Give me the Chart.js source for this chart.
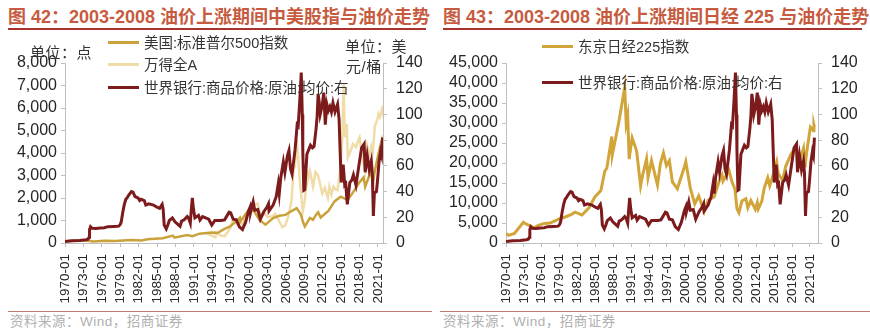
<!DOCTYPE html>
<html lang="zh-CN">
<head>
<meta charset="UTF-8">
<title>2003-2008 油价上涨期间股指与油价走势</title>
<script src="https://cdn.jsdelivr.net/npm/chart.js"></script>
<style>
  body { margin: 0; width: 870px; height: 334px; background: #fff; position: relative; overflow: hidden;
         font-family: "Liberation Sans", "Noto Sans CJK SC", sans-serif; }
  .abs { position: absolute; white-space: nowrap; }
  .title { top: 6px; font-size: 18px; line-height: 22px; font-weight: bold; color: #c65b40; }
  .rule { top: 28px; height: 2px; background: #a8322d; }
  .foot { top: 311px; height: 1px; background: #c07a72; }
  .src { top: 314px; font-size: 13.5px; line-height: 16px; color: #b0b0b0; letter-spacing: 0.5px; }
  .unit { font-size: 15px; line-height: 16px; color: #333; letter-spacing: 0.5px; }
  .leg { font-size: 14.5px; line-height: 16px; color: #333; }
  .leg i { position: absolute; left: -36px; top: 6px; width: 31px; height: 3px; }
  canvas { position: absolute; top: 40px; }
</style>
</head>
<body>
  <div class="abs title" style="left:8px">图 42：2003-2008 油价上涨期间中美股指与油价走势</div>
  <div class="abs rule" style="left:8px; width:418px"></div>
  <div class="abs title" style="left:443px">图 43：2003-2008 油价上涨期间日经 225 与油价走势</div>
  <div class="abs rule" style="left:443px; width:419px"></div>

  <canvas id="usChart" width="435" height="270" style="left:0"></canvas>
  <canvas id="jpChart" width="435" height="270" style="left:435px"></canvas>

  <div class="abs unit" style="left:30px; top:45px">单位：点</div>
  <div class="abs unit" style="left:345px; top:39px">单位：美</div>
  <div class="abs unit" style="left:346px; top:59px">元/桶</div>

  <div class="abs leg" style="left:144px; top:35px"><i style="background:#c9a23c"></i>美国:标准普尔500指数</div>
  <div class="abs leg" style="left:144px; top:57px"><i style="background:#f0dca8"></i>万得全A</div>
  <div class="abs leg" style="left:144px; top:80px"><i style="background:#7c1a1c"></i>世界银行:商品价格:原油:均价:右</div>

  <div class="abs leg" style="left:578px; top:39px"><i style="background:#d2a53a"></i>东京日经225指数</div>
  <div class="abs leg" style="left:578px; top:75px"><i style="background:#7c1a1c"></i>世界银行:商品价格:原油:均价:右</div>

  <div class="abs foot" style="left:8px; width:424px"></div>
  <div class="abs foot" style="left:440px; width:430px"></div>
  <div class="abs src" style="left:10px">资料来源：Wind，招商证券</div>
  <div class="abs src" style="left:443px">资料来源：Wind，招商证券</div>

<script>
// x轴刻度 (每三年)
const tickYears = [1970, 1973, 1976, 1979, 1982, 1985, 1988, 1991, 1994, 1997, 2000, 2003, 2006, 2009, 2012, 2015, 2018, 2021];

// 世界银行:商品价格:原油:均价 (美元/桶)
const oilDates = [
  '1970-01','1971-02','1972-06','1973-06','1973-10','1973-12','1974-01','1974-03','1974-06','1975-01','1975-10','1976-06',
  '1977-01','1978-01','1978-10','1979-01','1979-03','1979-06','1979-09','1979-12','1980-03','1980-06','1980-11','1981-02',
  '1981-06','1981-12','1982-03','1982-06','1982-12','1983-03','1983-09','1984-06','1984-12','1985-06','1985-11','1986-01',
  '1986-03','1986-07','1986-10','1987-01','1987-07','1987-12','1988-03','1988-10','1989-01','1989-06','1989-12','1990-03',
  '1990-06','1990-08','1990-10','1990-12','1991-03','1991-10','1992-01','1992-06','1993-06','1993-12','1994-06','1995-06',
  '1996-01','1996-10','1997-01','1997-06','1997-12','1998-06','1998-12','1999-06','1999-12','2000-03','2000-04','2000-09',
  '2000-12','2001-06','2001-11','2002-06','2002-12','2003-03','2003-04','2003-12','2004-06','2004-10','2004-12','2005-03',
  '2005-08','2005-11','2006-04','2006-07','2006-10','2007-01','2007-07','2007-11','2008-01','2008-04','2008-07','2008-09',
  '2008-10','2008-12','2009-02','2009-06','2009-10','2010-01','2010-05','2010-08','2010-12','2011-02','2011-04','2011-06',
  '2011-08','2011-12','2012-03','2012-06','2012-09','2012-12','2013-03','2013-06','2013-09','2014-01','2014-06','2014-09',
  '2014-12','2015-01','2015-05','2015-08','2015-10','2016-01','2016-06','2016-10','2017-01','2017-06','2017-12','2018-05',
  '2018-10','2018-12','2019-04','2019-08','2019-12','2020-02','2020-04','2020-06','2020-10','2020-12','2021-03','2021-06',
  '2021-08','2021-10'
];
const oilPrice = [
  1.2, 1.7, 1.9, 2.6, 3.0, 4.5, 10.5, 12.6, 11.4, 11.2, 11.6, 11.9,
  12.7, 12.9, 13.1, 14.5, 16.5, 24, 30, 34, 35.5, 37.5, 40, 39.5,
  36, 35, 33, 34, 33, 29.5, 30.5, 29.5, 28, 27, 30, 26,
  14, 11, 14, 17.5, 19.5, 16.5, 15.5, 13, 17, 18, 20.5, 19,
  15.5, 26, 35, 27, 19.5, 21.5, 17.8, 20.5, 18.5, 14, 17.5, 17.5,
  18, 24, 23.5, 18.5, 18, 12.5, 10.5, 16, 25, 28, 24, 32,
  25.5, 26, 18.5, 24.5, 28, 30.5, 25, 29.5, 36, 46, 38.5, 51,
  63, 55, 68, 72, 57.5, 53.5, 73, 92, 91, 110, 132.5, 100,
  72, 41, 41.5, 69, 73, 76, 74, 75, 89, 98, 116, 110,
  100, 107, 117, 92, 108, 103, 106, 102, 109, 102, 108, 96,
  60, 47, 61, 45, 46, 30, 47, 49, 53, 45, 61, 74,
  77, 55, 68, 57, 64, 54, 21, 39, 40, 48, 63, 71,
  68, 82
];

// 美国:标准普尔500指数
const spxDates = [
  '1970-01','1970-06','1972-12','1974-09','1976-06','1978-03','1980-11','1982-07','1983-06','1985-12','1987-08','1987-11',
  '1989-12','1990-10','1991-12','1993-12','1994-12','1995-12','1996-12','1997-12','1998-07','1998-08','1999-12','2000-08',
  '2001-09','2002-09','2003-12','2004-12','2005-12','2006-12','2007-10','2008-06','2008-11','2009-02','2009-12','2010-06',
  '2010-12','2011-04','2011-09','2012-12','2013-12','2014-12','2015-08','2016-02','2016-12','2017-12','2018-09','2018-12',
  '2019-12','2020-03','2020-06','2020-12','2021-04','2021-08','2021-09','2021-10'
];
const spxValue = [
  90, 75, 118, 70, 100, 90, 135, 110, 165, 210, 330, 235,
  350, 305, 415, 465, 455, 615, 740, 970, 1120, 957, 1470, 1517,
  1040, 815, 1110, 1210, 1250, 1420, 1550, 1280, 896, 735, 1115, 1030,
  1257, 1363, 1131, 1426, 1848, 2059, 1972, 1932, 2239, 2673, 2914, 2507,
  3231, 2585, 3100, 3756, 4181, 4523, 4307, 4605
];

// 万得全A
const windDates = [
  '1993-01','1993-06','1994-07','1994-09','1995-06','1996-01','1996-12','1997-05','1998-01','1998-06','1999-01','1999-06',
  '2000-01','2000-11','2001-06','2001-10','2002-06','2003-01','2003-12','2004-04','2005-06','2005-12','2006-06','2006-12',
  '2007-05','2007-07','2007-10','2008-01','2008-04','2008-10','2009-02','2009-07','2009-08','2009-12','2010-06','2010-11',
  '2011-04','2011-12','2012-05','2012-11','2013-02','2013-06','2013-10','2014-01','2014-06','2014-12','2015-03','2015-06',
  '2015-08','2015-12','2016-02','2016-06','2016-12','2017-06','2017-11','2018-01','2018-06','2018-12','2019-04','2019-08',
  '2019-12','2020-03','2020-07','2020-12','2021-02','2021-05','2021-09','2021-10'
];
const windValue = [
  450, 380, 260, 420, 330, 300, 650, 1000, 850, 950, 800, 1250,
  1300, 1700, 1750, 1300, 1350, 1150, 1200, 1300, 700, 800, 1200, 1900,
  3600, 3500, 4600, 3800, 2800, 1400, 1900, 3200, 2800, 3200, 2500, 3150,
  3000, 2200, 2450, 2000, 2500, 2150, 2500, 2400, 2350, 3400, 4600, 7100,
  4700, 5300, 3800, 4000, 4400, 4250, 4600, 4700, 3800, 3200, 4300, 3900,
  4300, 4100, 5200, 5500, 5750, 5600, 5950, 5850
];

// 东京日经225指数
const nkDates = [
  '1970-01','1970-06','1971-06','1972-12','1973-06','1974-10','1975-06','1976-06','1977-06','1978-12','1979-12','1980-12',
  '1981-08','1982-10','1983-12','1984-12','1985-12','1986-08','1986-12','1987-10','1987-11','1988-12','1989-12','1990-03',
  '1990-06','1990-09','1990-12','1991-03','1991-12','1992-08','1992-12','1993-08','1993-11','1994-06','1995-06','1995-12',
  '1996-06','1996-12','1997-06','1997-12','1998-10','1999-12','2000-03','2000-12','2001-09','2002-05','2003-04','2003-12',
  '2004-12','2005-12','2006-04','2006-06','2007-06','2007-12','2008-06','2008-10','2009-02','2009-08','2010-04','2010-08',
  '2011-02','2011-11','2012-03','2012-05','2012-12','2013-05','2013-12','2014-04','2014-12','2015-06','2015-09','2016-06',
  '2016-12','2017-10','2018-09','2018-12','2019-06','2019-12','2020-03','2020-06','2020-12','2021-02','2021-08','2021-09',
  '2021-10'
];
const nkValue = [
  2400, 1900, 2400, 5200, 4700, 3800, 4400, 4900, 5000, 6000, 6500, 7100,
  7700, 7000, 8800, 11500, 13100, 18000, 18700, 26600, 22000, 30100, 38900, 29980,
  31900, 20980, 23850, 26300, 22980, 14300, 16900, 21000, 16400, 20600, 14500, 19900,
  22500, 19360, 20600, 15260, 13560, 18930, 20330, 13790, 9770, 11760, 7830, 10680,
  11490, 16110, 17000, 15500, 18140, 15300, 13480, 8580, 7570, 10500, 11060, 8820,
  10620, 8430, 10080, 8540, 10400, 13770, 16290, 14300, 17450, 20240, 17390, 15580,
  19110, 22010, 24120, 20010, 21280, 23660, 18920, 22290, 27440, 28970, 28090, 29450,
  28890
];

function toYear(s) {
  const [y, m] = s.split('-').map(Number);
  return y + (m - 1) / 12;
}

function series(dates, values) {
  return dates.map((d, i) => ({ x: toYear(d), y: values[i] }));
}

const axisGrey = '#bfbfbf';
const tickColor = '#262626';

function makeChart(id, datasets, leftMax, leftStep, leftWidth, xMax) {
  const ctx = document.getElementById(id).getContext('2d');
  return new Chart(ctx, {
    type: 'line',
    data: { datasets: datasets },
    options: {
      responsive: false,
      animation: false,
      layout: { padding: { top: 23, left: 0, right: 0, bottom: 0 } },
      elements: { point: { radius: 0 }, line: { tension: 0 } },
      plugins: { legend: { display: false }, tooltip: { enabled: false } },
      scales: {
        x: {
          type: 'linear',
          min: 1970,
          max: xMax,
          afterBuildTicks: (axis) => { axis.ticks = tickYears.map(v => ({ value: v })); },
          afterFit: (axis) => { axis.height = 67; },
          ticks: {
            autoSkip: false, minRotation: 90, maxRotation: 90, padding: 7,
            color: tickColor, font: { family: 'Liberation Sans', size: 13.5 },
            callback: (v) => v + '-01'
          },
          grid: { drawOnChartArea: false, tickLength: 4, color: axisGrey },
          border: { color: axisGrey }
        },
        y: {
          position: 'left',
          min: 0,
          max: leftMax,
          afterFit: (axis) => { axis.width = leftWidth; },
          ticks: {
            autoSkip: false, stepSize: leftStep, padding: 4, color: tickColor,
            font: { family: 'Liberation Sans', size: 16 },
            callback: (v) => v.toLocaleString('en-US')
          },
          grid: { drawOnChartArea: false, tickLength: 4, color: axisGrey },
          border: { color: axisGrey }
        },
        y2: {
          position: 'right',
          min: 0,
          max: 140,
          afterFit: (axis) => { axis.width = 52; },
          ticks: {
            autoSkip: false, stepSize: 20, padding: 9, color: tickColor,
            font: { family: 'Liberation Sans', size: 16 }
          },
          grid: { drawOnChartArea: false, tickLength: 4, color: axisGrey },
          border: { color: axisGrey }
        }
      }
    }
  });
}

makeChart('usChart', [
  { label: '世界银行:商品价格:原油:均价:右', data: series(oilDates, oilPrice), yAxisID: 'y2',
    borderColor: '#7c1a1c', borderWidth: 3, order: 0 },
  { label: '美国:标准普尔500指数', data: series(spxDates, spxValue), yAxisID: 'y',
    borderColor: '#c9a23c', borderWidth: 2.5, order: 1 },
  { label: '万得全A', data: series(windDates, windValue), yAxisID: 'y',
    borderColor: '#f0dca8', borderWidth: 2.5, order: 2 }
], 8000, 1000, 65, 2021.82);

makeChart('jpChart', [
  { label: '世界银行:商品价格:原油:均价:右', data: series(oilDates, oilPrice), yAxisID: 'y2',
    borderColor: '#7c1a1c', borderWidth: 3, order: 0 },
  { label: '东京日经225指数', data: series(nkDates, nkValue), yAxisID: 'y',
    borderColor: '#d2a53a', borderWidth: 3, order: 1 }
], 45000, 5000, 71, 2022.35);
</script>
</body>
</html>
